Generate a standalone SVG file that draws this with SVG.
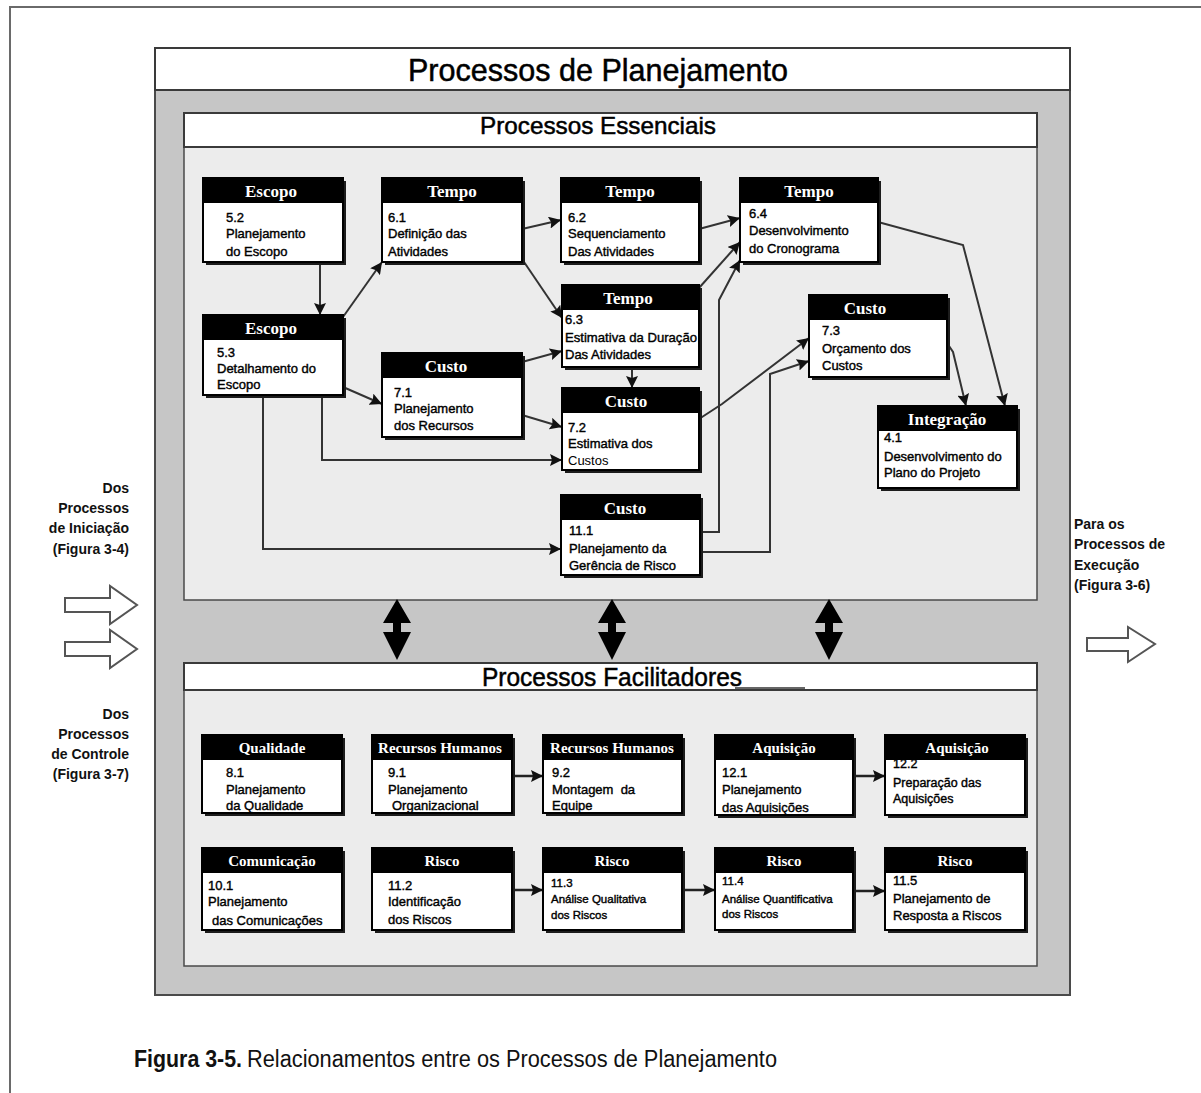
<svg xmlns="http://www.w3.org/2000/svg" width="1201" height="1093" viewBox="0 0 1201 1093">
  <style>
    .frame { fill: none; stroke: #6a6a6a; stroke-width: 2; }
    .outer { fill: #c6c6c6; stroke: #4a4a4a; stroke-width: 2; }
    .inner { fill: #ececec; stroke: #4a4a4a; stroke-width: 1.5; }
    .head { fill: #fff; stroke: #3a3a3a; stroke-width: 2; }
    .title { font-family: "Liberation Sans", Arial, sans-serif; fill: #000; text-anchor: middle; stroke: #000; stroke-width: 0.5; }
    .sh { fill: #1c1c1c; }
    .bd { fill: #fff; stroke: #000; stroke-width: 2; }
    .hd { fill: #000; }
    .ht { font-family: "Liberation Serif", "Times New Roman", serif; font-weight: bold; font-size: 17px; fill: #fff; text-anchor: middle; }
    .ht.f { font-size: 15px; }
    .bt { font-family: "Liberation Sans", Arial, sans-serif; font-size: 13px; fill: #000; stroke: #000; stroke-width: 0.4; }
    .bt.s { font-size: 11.5px; }
    .bt.m { font-size: 12.5px; }
    .bt.n { stroke: none; }
    .ln { fill: none; stroke: #333; stroke-width: 2; marker-end: url(#ah); }
    .lf { fill: none; stroke: #222; stroke-width: 2.5; marker-end: url(#ah); }
    .dbl { fill: #000; }
    .hollow { fill: #fff; stroke: #555; stroke-width: 2; stroke-linejoin: miter; }
    .side { font-family: "Liberation Sans", Arial, sans-serif; font-weight: bold; font-size: 14px; fill: #111; }
    .cap { font-family: "Liberation Sans", Arial, sans-serif; font-size: 23px; fill: #111; }
  </style>
  <defs>
    <marker id="ah" markerUnits="userSpaceOnUse" markerWidth="13" markerHeight="12" refX="12" refY="6" orient="auto">
      <path d="M0,0 L12,6 L0,12 L2,6 Z" fill="#111"/>
    </marker>
  </defs>

  <rect width="1201" height="1093" fill="#fff"/>
  <!-- page frame -->
  <path class="frame" d="M10,1093 V7 H1201"/>

  <!-- main planning panel -->
  <g id="panel-main">
    <rect class="outer" x="155" y="48" width="915" height="947"/>
    <rect class="head" x="155" y="48" width="915" height="42"/>
    <text class="title" x="598" y="81" font-size="32" textLength="380" lengthAdjust="spacingAndGlyphs">Processos de Planejamento</text>
  </g>

  <g id="panel-core">
    <rect class="inner" x="184" y="113" width="853" height="487"/>
    <rect class="head" x="184" y="113" width="853" height="34" stroke-width="1.5"/>
    <text class="title" x="598" y="134" font-size="24" textLength="236" lengthAdjust="spacingAndGlyphs">Processos Essenciais</text>
  </g>

  <g id="panel-facilitating">
    <rect class="inner" x="184" y="663" width="853" height="303"/>
    <rect class="head" x="184" y="663" width="853" height="27" stroke-width="1.5"/>
    <text class="title" x="612" y="686" font-size="26" textLength="260" lengthAdjust="spacingAndGlyphs">Processos Facilitadores</text>
    <line x1="735" y1="688" x2="805" y2="688" stroke="#333" stroke-width="1.5"/>
  </g>

  <!-- side labels and flow arrows -->
  <g id="from-initiation">
    <text class="side" text-anchor="end" x="129" y="493">Dos</text>
    <text class="side" text-anchor="end" x="129" y="513">Processos</text>
    <text class="side" text-anchor="end" x="129" y="533">de Iniciação</text>
    <text class="side" text-anchor="end" x="129" y="554">(Figura 3-4)</text>
    <path class="hollow" d="M65,598 H110 V586 L137,605 L110,624 V612 H65 Z"/>
  </g>
  <g id="from-control">
    <path class="hollow" d="M65,642 H110 V630 L137,649 L110,668 V656 H65 Z"/>
    <text class="side" text-anchor="end" x="129" y="719">Dos</text>
    <text class="side" text-anchor="end" x="129" y="739">Processos</text>
    <text class="side" text-anchor="end" x="129" y="759">de Controle</text>
    <text class="side" text-anchor="end" x="129" y="779">(Figura 3-7)</text>
  </g>
  <g id="to-execution">
    <text class="side" x="1074" y="529">Para os</text>
    <text class="side" x="1074" y="549">Processos de</text>
    <text class="side" x="1074" y="570">Execução</text>
    <text class="side" x="1074" y="590">(Figura 3-6)</text>
    <path class="hollow" d="M1087,638 H1128 V627 L1155,644 L1128,662 V651 H1087 Z"/>
  </g>

  <!-- connectors -->
  <g id="connectors">
    <path class="ln" d="M320,262 V315"/>
    <path class="ln" d="M343,317 L382,262"/>
    <path class="ln" d="M522,229 L561,220"/>
    <path class="ln" d="M522,259 L562,318"/>
    <path class="ln" d="M699,229 L740,218"/>
    <path class="ln" d="M699,288 L740,242"/>
    <path class="ln" d="M700,532 H719 V300 L740,260"/>
    <path class="ln" d="M343,387 L382,404"/>
    <path class="ln" d="M522,362 L562,351"/>
    <path class="ln" d="M522,415 L562,427"/>
    <path class="ln" d="M322,395 V460 H562"/>
    <path class="ln" d="M263,395 V549 H561"/>
    <path class="ln" d="M632,367 V388"/>
    <path class="ln" d="M699,419 L722,404 L809,338"/>
    <path class="ln" d="M700,552 H770 V374 L809,361"/>
    <path class="ln" d="M947,343 L953,352 L966,406"/>
    <path class="ln" d="M878,222 L963,245 L1005,406"/>

    <path class="lf" d="M512,776 H543"/>
    <path class="lf" d="M853,776 H885"/>
    <path class="lf" d="M512,890 H543"/>
    <path class="lf" d="M682,890 H715"/>
    <path class="lf" d="M853,891 H885"/>

    <!-- two-way links between the core and facilitating groups -->
    <path class="dbl" d="M397,599 L411,623 L401,623 L401,632 L411,632 L397,660 L383,632 L393,632 L393,623 L383,623 Z"/>
    <path class="dbl" d="M612,599 L626,623 L616,623 L616,632 L626,632 L612,660 L598,632 L608,632 L608,623 L598,623 Z"/>
    <path class="dbl" d="M829,599 L843,623 L833,623 L833,632 L843,632 L829,660 L815,632 L825,632 L825,623 L815,623 Z"/>
  </g>

  <!-- core processes -->
  <g id="n5-2" transform="translate(203,178)">
    <rect class="sh" x="3" y="3" width="140" height="84"/>
    <rect class="bd" width="140" height="84"/>
    <rect class="hd" width="140" height="25"/>
    <text class="ht" x="68" y="19">Escopo</text>
    <text class="bt" x="23" y="44">5.2</text>
    <text class="bt" x="23" y="60">Planejamento</text>
    <text class="bt" x="23" y="78">do Escopo</text>
  </g>
  <g id="n6-1" transform="translate(382,178)">
    <rect class="sh" x="3" y="3" width="140" height="84"/>
    <rect class="bd" width="140" height="84"/>
    <rect class="hd" width="140" height="25"/>
    <text class="ht" x="70" y="19">Tempo</text>
    <text class="bt" x="6" y="44">6.1</text>
    <text class="bt" x="6" y="60">Definição das</text>
    <text class="bt" x="6" y="78">Atividades</text>
  </g>
  <g id="n6-2" transform="translate(561,178)">
    <rect class="sh" x="3" y="3" width="138" height="84"/>
    <rect class="bd" width="138" height="84"/>
    <rect class="hd" width="138" height="25"/>
    <text class="ht" x="69" y="19">Tempo</text>
    <text class="bt" x="7" y="44">6.2</text>
    <text class="bt" x="7" y="60">Sequenciamento</text>
    <text class="bt" x="7" y="78">Das Atividades</text>
  </g>
  <g id="n6-4" transform="translate(740,178)">
    <rect class="sh" x="3" y="3" width="138" height="84"/>
    <rect class="bd" width="138" height="84"/>
    <rect class="hd" width="138" height="25"/>
    <text class="ht" x="69" y="19">Tempo</text>
    <text class="bt" x="9" y="40">6.4</text>
    <text class="bt" x="9" y="57">Desenvolvimento</text>
    <text class="bt" x="9" y="75">do Cronograma</text>
  </g>
  <g id="n5-3" transform="translate(203,315)">
    <rect class="sh" x="3" y="3" width="140" height="80"/>
    <rect class="bd" width="140" height="80"/>
    <rect class="hd" width="140" height="25"/>
    <text class="ht" x="68" y="19">Escopo</text>
    <text class="bt" x="14" y="42">5.3</text>
    <text class="bt" x="14" y="58">Detalhamento do</text>
    <text class="bt" x="14" y="74">Escopo</text>
  </g>
  <g id="n7-1" transform="translate(382,353)">
    <rect class="sh" x="3" y="3" width="140" height="84"/>
    <rect class="bd" width="140" height="84"/>
    <rect class="hd" width="140" height="25"/>
    <text class="ht" x="64" y="19">Custo</text>
    <text class="bt" x="12" y="44">7.1</text>
    <text class="bt" x="12" y="60">Planejamento</text>
    <text class="bt" x="12" y="77">dos Recursos</text>
  </g>
  <g id="n6-3" transform="translate(562,285)">
    <rect class="sh" x="3" y="3" width="137" height="82"/>
    <rect class="bd" width="137" height="82"/>
    <rect class="hd" width="137" height="25"/>
    <text class="ht" x="66" y="19">Tempo</text>
    <text class="bt" x="3" y="39">6.3</text>
    <text class="bt" x="3" y="57" textLength="132" lengthAdjust="spacingAndGlyphs">Estimativa da Duração</text>
    <text class="bt" x="3" y="74">Das Atividades</text>
  </g>
  <g id="n7-2" transform="translate(562,388)">
    <rect class="sh" x="3" y="3" width="137" height="82"/>
    <rect class="bd" width="137" height="82"/>
    <rect class="hd" width="137" height="25"/>
    <text class="ht" x="64" y="19">Custo</text>
    <text class="bt" x="6" y="44" font-size="11">7.2</text>
    <text class="bt" x="6" y="60">Estimativa dos</text>
    <text class="bt n" x="6" y="77">Custos</text>
  </g>
  <g id="n7-3" transform="translate(809,295)">
    <rect class="sh" x="3" y="3" width="138" height="82"/>
    <rect class="bd" width="138" height="82"/>
    <rect class="hd" width="138" height="25"/>
    <text class="ht" x="56" y="19">Custo</text>
    <text class="bt" x="13" y="40">7.3</text>
    <text class="bt" x="13" y="58">Orçamento dos</text>
    <text class="bt" x="13" y="75">Custos</text>
  </g>
  <g id="n4-1" transform="translate(878,406)">
    <rect class="sh" x="3" y="3" width="139" height="82"/>
    <rect class="bd" width="139" height="82"/>
    <rect class="hd" width="139" height="25"/>
    <text class="ht" x="69" y="19">Integração</text>
    <text class="bt" x="6" y="36">4.1</text>
    <text class="bt" x="6" y="55">Desenvolvimento do</text>
    <text class="bt" x="6" y="71">Plano do Projeto</text>
  </g>
  <g id="n11-1" transform="translate(561,495)">
    <rect class="sh" x="3" y="3" width="139" height="80"/>
    <rect class="bd" width="139" height="80"/>
    <rect class="hd" width="139" height="25"/>
    <text class="ht" x="64" y="19">Custo</text>
    <text class="bt" x="8" y="40">11.1</text>
    <text class="bt" x="8" y="58">Planejamento da</text>
    <text class="bt" x="8" y="75">Gerência de Risco</text>
  </g>

  <!-- facilitating processes -->
  <g id="n8-1" transform="translate(202,735)">
    <rect class="sh" x="3" y="3" width="140" height="78"/>
    <rect class="bd" width="140" height="78"/>
    <rect class="hd" width="140" height="25"/>
    <text class="ht f" x="70" y="18">Qualidade</text>
    <text class="bt" x="24" y="42">8.1</text>
    <text class="bt" x="24" y="59">Planejamento</text>
    <text class="bt" x="24" y="75">da Qualidade</text>
  </g>
  <g id="n9-1" transform="translate(372,735)">
    <rect class="sh" x="3" y="3" width="140" height="78"/>
    <rect class="bd" width="140" height="78"/>
    <rect class="hd" width="140" height="25"/>
    <text class="ht f" x="68" y="18">Recursos Humanos</text>
    <text class="bt" x="16" y="42">9.1</text>
    <text class="bt" x="16" y="59">Planejamento</text>
    <text class="bt" x="20" y="75">Organizacional</text>
  </g>
  <g id="n9-2" transform="translate(543,735)">
    <rect class="sh" x="3" y="3" width="139" height="78"/>
    <rect class="bd" width="139" height="78"/>
    <rect class="hd" width="139" height="25"/>
    <text class="ht f" x="69" y="18">Recursos Humanos</text>
    <text class="bt" x="9" y="42">9.2</text>
    <text class="bt" x="9" y="59">Montagem&#160; da</text>
    <text class="bt" x="9" y="75">Equipe</text>
  </g>
  <g id="n12-1" transform="translate(715,735)">
    <rect class="sh" x="3" y="3" width="138" height="80"/>
    <rect class="bd" width="138" height="80"/>
    <rect class="hd" width="138" height="25"/>
    <text class="ht f" x="69" y="18">Aquisição</text>
    <text class="bt" x="7" y="42">12.1</text>
    <text class="bt" x="7" y="59">Planejamento</text>
    <text class="bt" x="7" y="77">das Aquisições</text>
  </g>
  <g id="n12-2" transform="translate(885,735)">
    <rect class="sh" x="3" y="3" width="140" height="80"/>
    <rect class="bd" width="140" height="80"/>
    <rect class="hd" width="140" height="25"/>
    <text class="ht f" x="72" y="18">Aquisição</text>
    <text class="bt m" x="8" y="33">12.2</text>
    <text class="bt m" x="8" y="52">Preparação das</text>
    <text class="bt m" x="8" y="68">Aquisições</text>
  </g>
  <g id="n10-1" transform="translate(202,848)">
    <rect class="sh" x="3" y="3" width="140" height="82"/>
    <rect class="bd" width="140" height="82"/>
    <rect class="hd" width="140" height="25"/>
    <text class="ht f" x="70" y="18">Comunicação</text>
    <text class="bt" x="6" y="42">10.1</text>
    <text class="bt" x="6" y="58">Planejamento</text>
    <text class="bt" x="10" y="77">das Comunicações</text>
  </g>
  <g id="n11-2" transform="translate(372,848)">
    <rect class="sh" x="3" y="3" width="140" height="82"/>
    <rect class="bd" width="140" height="82"/>
    <rect class="hd" width="140" height="25"/>
    <text class="ht f" x="70" y="18">Risco</text>
    <text class="bt" x="16" y="42">11.2</text>
    <text class="bt" x="16" y="58">Identificação</text>
    <text class="bt" x="16" y="76">dos Riscos</text>
  </g>
  <g id="n11-3" transform="translate(543,848)">
    <rect class="sh" x="3" y="3" width="139" height="82"/>
    <rect class="bd" width="139" height="82"/>
    <rect class="hd" width="139" height="25"/>
    <text class="ht f" x="69" y="18">Risco</text>
    <text class="bt s" x="8" y="39">11.3</text>
    <text class="bt s" x="8" y="55">Análise Qualitativa</text>
    <text class="bt s" x="8" y="71">dos Riscos</text>
  </g>
  <g id="n11-4" transform="translate(715,848)">
    <rect class="sh" x="3" y="3" width="138" height="82"/>
    <rect class="bd" width="138" height="82"/>
    <rect class="hd" width="138" height="25"/>
    <text class="ht f" x="69" y="18">Risco</text>
    <text class="bt s" x="7" y="37">11.4</text>
    <text class="bt s" x="7" y="55">Análise Quantificativa</text>
    <text class="bt s" x="7" y="70">dos Riscos</text>
  </g>
  <g id="n11-5" transform="translate(885,848)">
    <rect class="sh" x="3" y="3" width="140" height="82"/>
    <rect class="bd" width="140" height="82"/>
    <rect class="hd" width="140" height="25"/>
    <text class="ht f" x="70" y="18">Risco</text>
    <text class="bt" x="8" y="37" font-size="12">11.5</text>
    <text class="bt" x="8" y="55" font-size="12">Planejamento de</text>
    <text class="bt" x="8" y="72" font-size="12">Resposta a Riscos</text>
  </g>

  <!-- caption -->
  <g id="caption">
    <text class="cap" x="134" y="1067" font-weight="bold" textLength="108" lengthAdjust="spacingAndGlyphs">Figura 3-5.</text>
    <text class="cap" x="247" y="1067" textLength="530" lengthAdjust="spacingAndGlyphs">Relacionamentos entre os Processos de Planejamento</text>
  </g>
</svg>
